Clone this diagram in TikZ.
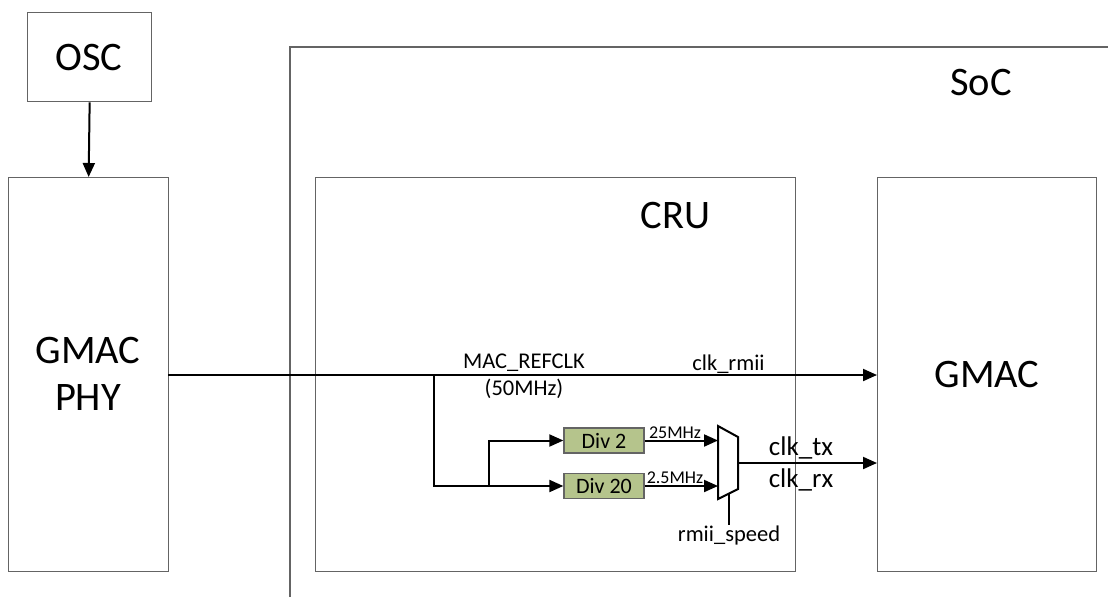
\documentclass[tikz,border=0pt]{standalone}
\usepackage{fontspec}
\setmainfont{Carlito}
\usetikzlibrary{arrows.meta}
\definecolor{boxgray}{RGB}{100,100,100}
\definecolor{divgreen}{RGB}{181,196,140}
\begin{document}
\begin{tikzpicture}[x=1pt,y=-1pt,
  box/.style={draw=boxgray, line width=1.3pt, inner sep=0pt, anchor=north west},
  wire/.style={line width=2pt},
  arr/.style={wire,-{Triangle[length=14pt,width=12pt]}},
  lbl/.style={font=\fontsize{22.5}{26}\selectfont, inner sep=0pt, anchor=base},
  biglbl/.style={font=\fontsize{40.5}{47}\selectfont, inner sep=0pt, anchor=base},
  smalllbl/.style={font=\fontsize{18}{20}\selectfont, inner sep=0pt, anchor=base},
  clklbl/.style={font=\fontsize{27}{30}\selectfont, inner sep=0pt, anchor=base},
  divbox/.style={draw=boxgray, fill=divgreen, line width=1.3pt, minimum width=80pt,
    minimum height=25pt, inner sep=0pt, font=\fontsize{22}{24}\selectfont}]
\useasboundingbox (0,0) rectangle (1108,597);

% SoC outline (open to the right and bottom)
\coordinate (socbl) at (290,597);
\coordinate (soctl) at (290,47);
\coordinate (soctr) at (1108,47);
\draw[boxgray, line width=1.3pt] (socbl) -- (soctl) -- (soctr);
\node[biglbl] (soc) at (981,95) {SoC};

% blocks
\node[box, minimum width=124pt, minimum height=89pt] (osc) at (27,12) {};
\node[biglbl] (osct) at (89,70) {OSC};
\node[box, minimum width=160pt, minimum height=394pt] (phy) at (8,177) {};
\node[biglbl] (phyt1) at (88,363) {GMAC};
\node[biglbl] (phyt2) at (88,410) {PHY};
\node[box, minimum width=480pt, minimum height=394pt] (cru) at (315,177) {};
\node[biglbl] (crut) at (675.5,228) {CRU};
\node[box, minimum width=219pt, minimum height=394pt] (gmac) at (877,177) {};
\node[biglbl] (gmact) at (987,387) {GMAC};

% OSC -> PHY
\draw[arr] (osc.south) -- (phy.north);

% main clock line
\coordinate (src) at (168,375);
\coordinate (b1) at (434,375);
\coordinate (b2) at (434,486);
\coordinate (b3) at (489,486);
\draw[arr] (src) -- (gmac.west |- src);
\node[lbl] (refclk) at (524,368) {MAC\_REFCLK};
\node[lbl] (fifty) at (524,395) {(50MHz)};
\node[lbl] (clkrmii) at (728.5,370) {clk\_rmii};

% dividers
\node[divbox] (div2) at (604,440.5) {Div 2};
\node[divbox] (div20) at (604,486) {Div 20};
\draw[arr] (b1) -- (b2) -- (div20.west);
\draw[arr] (b3) |- (div2.west);

% mux
\coordinate (m1) at (718,426);
\coordinate (m2) at (738,437);
\coordinate (m3) at (738,489);
\coordinate (m4) at (718,499);
\draw[wire, line join=miter] (m1) -- (m2) -- (m3) -- (m4) -- cycle;
\coordinate (in1) at (718,440.5);
\coordinate (in2) at (718,486);
\draw[arr] (div2.east) -- (in1);
\draw[arr] (div20.east) -- (in2);
\node[smalllbl] (f25) at (675,438) {25MHz};
\node[smalllbl] (f25b) at (675,483) {2.5MHz};

% mux output
\coordinate (mo) at (738,463);
\draw[arr] (mo) -- (gmac.west |- mo);
\node[clklbl] (clktx) at (801,455) {clk\_tx};
\node[clklbl] (clkrx) at (801,487) {clk\_rx};

% select
\coordinate (sel) at (729,493.5);
\coordinate (selend) at (729,525);
\draw[wire] (sel) -- (selend);
\node[lbl] (rmiisp) at (729,541) {rmii\_speed};
\end{tikzpicture}
\end{document}
